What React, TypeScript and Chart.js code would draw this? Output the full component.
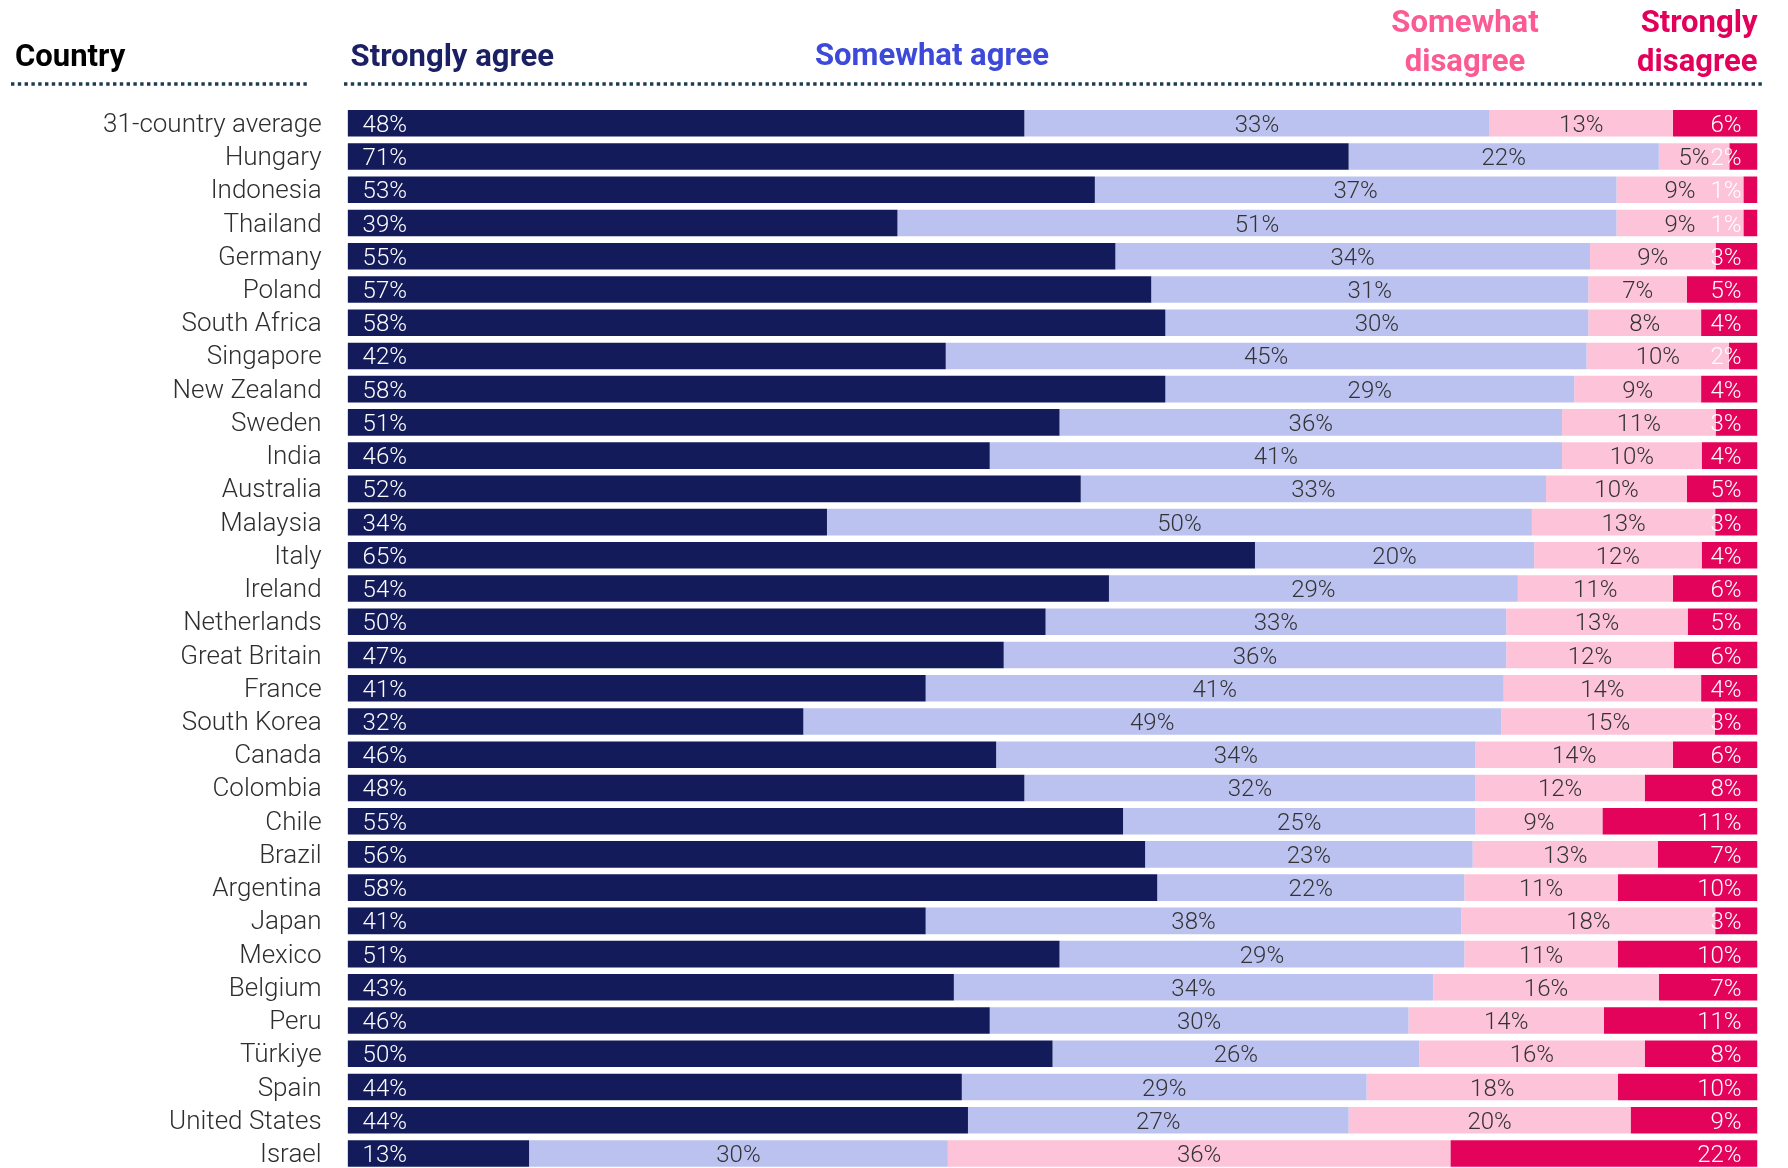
import React, { useEffect, useRef } from "react";
import { Chart, registerables } from "chart.js";

Chart.register(...registerables);

const countries = [
  "31-country average", "Hungary", "Indonesia", "Thailand", "Germany", "Poland",
  "South Africa", "Singapore", "New Zealand", "Sweden", "India", "Australia",
  "Malaysia", "Italy", "Ireland", "Netherlands", "Great Britain", "France",
  "South Korea", "Canada", "Colombia", "Chile", "Brazil", "Argentina", "Japan",
  "Mexico", "Belgium", "Peru", "Türkiye", "Spain", "United States", "Israel",
];

const stronglyAgree = [48, 71, 53, 39, 55, 57, 58, 42, 58, 51, 46, 52, 34, 65, 54, 50, 47, 41, 32, 46, 48, 55, 56, 58, 41, 51, 43, 46, 50, 44, 44, 13];
const somewhatAgree = [33, 22, 37, 51, 34, 31, 30, 45, 29, 36, 41, 33, 50, 20, 29, 33, 36, 41, 49, 34, 32, 25, 23, 22, 38, 29, 34, 30, 26, 29, 27, 30];
const somewhatDisagree = [13, 5, 9, 9, 9, 7, 8, 10, 9, 11, 10, 10, 13, 12, 11, 13, 12, 14, 15, 14, 12, 9, 13, 11, 18, 11, 16, 14, 16, 18, 20, 36];
const stronglyDisagree = [6, 2, 1, 1, 3, 5, 4, 2, 4, 3, 4, 5, 3, 4, 6, 5, 6, 4, 3, 6, 8, 11, 7, 10, 3, 10, 7, 11, 8, 10, 9, 22];

const seriesNames = ["Strongly agree", "Somewhat agree", "Somewhat disagree", "Strongly disagree"];
const seriesValues = [stronglyAgree, somewhatAgree, somewhatDisagree, stronglyDisagree];
const barColors = ["#131b5a", "#bbc2f0", "#fdc4d9", "#e4035a"];
const labelColors = ["#ffffff", "#333333", "#333333", "#ffffff"];
const headerColors = ["#1b1f63", "#3d4ad9", "#fb5a92", "#e3005a"];

const rowTotals = countries.map((_, i) => seriesValues.reduce((s, arr) => s + arr[i], 0));

const FONT = "Roboto, 'Noto Sans', sans-serif";

const labelPlugin = {
  id: "segmentLabels",
  afterDatasetsDraw(chart: any) {
    const ctx = chart.ctx;
    ctx.save();
    ctx.font = `300 24px ${FONT}`;
    ctx.textBaseline = "middle";
    chart.data.datasets.forEach((ds: any, di: number) => {
      const meta = chart.getDatasetMeta(di);
      meta.data.forEach((bar: any, i: number) => {
        const { x, y, base } = bar.getProps(["x", "y", "base"], true);
        const txt = `${ds.rawValues[i]}%`;
        ctx.fillStyle = labelColors[di];
        const left = Math.min(x, base);
        const right = Math.max(x, base);
        if (di === 0) {
          ctx.textAlign = "left";
          ctx.fillText(txt, left + 15, y + 2.5);
        } else if (di === 3) {
          ctx.textAlign = "right";
          ctx.fillText(txt, right - 16, y + 2.5);
        } else {
          ctx.textAlign = "center";
          ctx.fillText(txt, (left + right) / 2, y + 2.5);
        }
      });
    });
    ctx.restore();
  },
};

const headerPlugin = {
  id: "headers",
  afterDraw(chart: any) {
    const ctx = chart.ctx;
    const { left, right } = chart.chartArea;
    ctx.save();
    ctx.font = `bold 31px ${FONT}`;
    ctx.textBaseline = "alphabetic";

    ctx.fillStyle = "#000000";
    ctx.textAlign = "left";
    ctx.fillText("Country", 15, 66);

    ctx.fillStyle = headerColors[0];
    ctx.fillText(seriesNames[0], left + 3, 66);

    ctx.fillStyle = headerColors[1];
    ctx.textAlign = "center";
    ctx.fillText(seriesNames[1], 932, 65);

    ctx.fillStyle = headerColors[2];
    const sd = seriesNames[2].split(" ");
    ctx.fillText(sd[0], 1465, 32);
    ctx.fillText(sd[1], 1465, 71);

    ctx.fillStyle = headerColors[3];
    ctx.textAlign = "right";
    const st = seriesNames[3].split(" ");
    ctx.fillText(st[0], right, 32);
    ctx.fillText(st[1], right, 71);

    ctx.strokeStyle = "#1e3d4c";
    ctx.lineWidth = 3.4;
    ctx.setLineDash([3.4, 3.4]);
    ctx.beginPath();
    ctx.moveTo(11, 84);
    ctx.lineTo(310, 84);
    ctx.moveTo(344, 84);
    ctx.lineTo(1763, 84);
    ctx.stroke();
    ctx.restore();
  },
};

export default function App() {
  const ref = useRef<HTMLCanvasElement>(null);

  useEffect(() => {
    const canvas = ref.current;
    if (!canvas) return;
    const datasets = seriesValues.map((vals, di) => ({
      label: seriesNames[di],
      data: vals.map((v, i) => (v / rowTotals[i]) * 100),
      rawValues: vals,
      backgroundColor: barColors[di],
      borderWidth: 0,
      barPercentage: 0.8,
      categoryPercentage: 1,
    }));
    const chart = new Chart(canvas, {
      type: "bar",
      data: { labels: countries, datasets: datasets as any },
      options: {
        indexAxis: "y",
        animation: false,
        responsive: false,
        devicePixelRatio: 1,
        layout: { padding: { left: 0, right: 30.5, top: 106.7, bottom: 1.9 } },
        plugins: { legend: { display: false }, tooltip: { enabled: false }, title: { display: false } },
        scales: {
          x: { stacked: true, min: 0, max: 100, display: false },
          y: {
            stacked: true,
            grid: { display: false, drawTicks: false },
            border: { display: false },
            ticks: {
              padding: 26,
              labelOffset: 2,
              color: "#2e2e2e",
              font: { family: FONT, size: 26, weight: "300" as any },
              autoSkip: false,
            },
            afterFit: (scale: any) => {
              scale.width = 347.6;
              scale.paddingTop = 0;
              scale.paddingBottom = 0;
            },
          },
        },
      },
      plugins: [labelPlugin, headerPlugin],
    });
    return () => chart.destroy();
  }, []);

  return (
    <div style={{ position: "absolute", left: 0, top: 0, width: 1788, height: 1168, overflow: "hidden", background: "#ffffff" }}>
      <canvas ref={ref} width={1788} height={1172} style={{ display: "block", width: 1788, height: 1172 }} />
    </div>
  );
}
